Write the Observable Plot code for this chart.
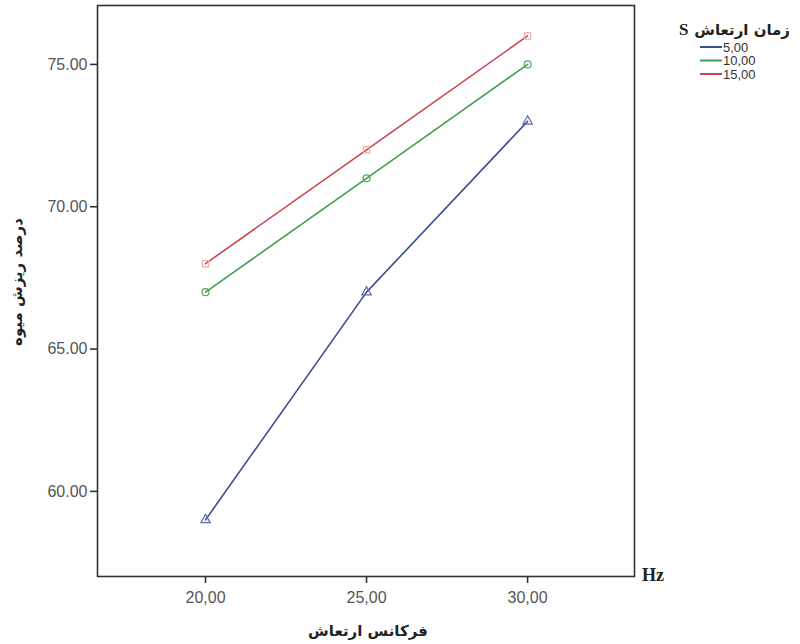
<!DOCTYPE html>
<html><head><meta charset="utf-8">
<script src="https://cdn.jsdelivr.net/npm/d3@7"></script>
<script src="https://cdn.jsdelivr.net/npm/@observablehq/plot@0.6"></script>
<style>
body{margin:0;background:#fff}
#wrap{position:relative;width:800px;height:644px;overflow:hidden}
</style>
</head><body><div id="wrap"></div>
<script>
const frequencies = [20, 25, 30];
const durationLabels = ["5,00", "10,00", "15,00"];
const values5 = [59, 67, 73];
const values10 = [67, 71, 75];
const values15 = [68, 72, 76];
const yTicks = [60, 65, 70, 75];
const seriesColors = ["#3d4c8e", "#3e9f4c", "#c8464e"];
const markerColors = ["#5a6aa6", "#4fa85c", "#e8b0a8"];
const seriesSymbols = ["triangle", "circle", "square"];
const xTitle = "فرکانس ارتعاش";
const yTitle = "درصد ریزش میوه";
const legendTitle = "زمان ارتعاش";

const seriesValues = [values5, values10, values15];
const data = [];
seriesValues.forEach((vals, i) => vals.forEach((v, j) => data.push({f: frequencies[j], v, s: durationLabels[i]})));

const chart = Plot.plot({
  width: 800, height: 644,
  marginLeft: 97, marginRight: 166, marginTop: 5, marginBottom: 68,
  style: {fontFamily: "'Liberation Sans', Arial, sans-serif", background: "#fff"},
  x: {domain: [16.646, 33.32]},
  y: {domain: [57.01, 77.07]},
  color: {domain: durationLabels, range: seriesColors},
  symbol: {domain: durationLabels, range: seriesSymbols},
  marks: [
    Plot.axisX({ticks: frequencies, tickSize: 7, tickPadding: 8, fontSize: 16, label: null,
      tickFormat: d => d.toFixed(2).replace(".", ",")}),
    Plot.axisY({ticks: yTicks, tickSize: 7, tickPadding: 3, fontSize: 16, label: null,
      tickFormat: d => d.toFixed(2)}),
    Plot.line(data, {x: "f", y: "v", z: "s", stroke: "s", strokeWidth: 1.6}),
    Plot.dot(data, {x: "f", y: "v", symbol: "s", r: 3.5, fill: "none", strokeWidth: 1.2,
      stroke: d => markerColors[durationLabels.indexOf(d.s)]}),
    Plot.frame({stroke: "#333", strokeWidth: 1.6})
  ]
});
const wrap = document.getElementById("wrap");
wrap.appendChild(chart);
d3.select(chart).selectAll('g[aria-label="x-axis tick label"] text, g[aria-label="y-axis tick label"] text').attr("fill", "#555");
d3.select(chart).selectAll('g[aria-label="x-axis tick"] path, g[aria-label="y-axis tick"] path').attr("stroke", "#333").attr("stroke-width", 1.6);

const svg = d3.select(chart);
svg.append("text").attr("x", 368).attr("y", 636).attr("text-anchor", "middle")
  .attr("font-family", "'DejaVu Sans', sans-serif").attr("font-weight", "bold").attr("font-size", 15)
  .attr("fill", "#222").text(xTitle);
svg.append("text").attr("transform", "translate(22,282) rotate(-90)").attr("text-anchor", "middle")
  .attr("font-family", "'DejaVu Sans', sans-serif").attr("font-weight", "bold").attr("font-size", 15)
  .attr("fill", "#222").text(yTitle);
svg.append("text").attr("x", 642).attr("y", 581).attr("text-anchor", "start")
  .attr("font-family", "'Liberation Serif', serif").attr("font-weight", "bold").attr("font-size", 18)
  .attr("fill", "#222").text("Hz");

// legend
const lg = svg.append("g");
lg.append("text").attr("x", 790).attr("y", 35).attr("text-anchor", "end")
  .attr("font-family", "'DejaVu Sans', sans-serif").attr("font-weight", "bold").attr("font-size", 15)
  .attr("fill", "#222").text(legendTitle);
lg.append("text").attr("x", 679).attr("y", 35).attr("text-anchor", "start")
  .attr("font-family", "'Liberation Serif', serif").attr("font-weight", "bold").attr("font-size", 17)
  .attr("fill", "#222").text("S");
durationLabels.forEach((lab, i) => {
  const y = 47 + i * 13.5;
  lg.append("line").attr("x1", 700).attr("x2", 722).attr("y1", y).attr("y2", y)
    .attr("stroke", seriesColors[i]).attr("stroke-width", 2);
  lg.append("text").attr("x", 723).attr("y", y + 4.5).attr("text-anchor", "start")
    .attr("font-family", "'Liberation Sans', Arial, sans-serif").attr("font-size", 13)
    .attr("fill", "#333").text(lab);
});
</script>
</body></html>
